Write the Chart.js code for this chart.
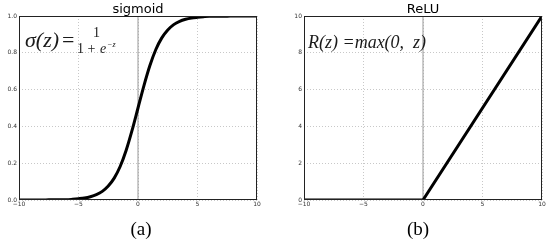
<!DOCTYPE html>
<html>
<head>
<meta charset="utf-8">
<script src="https://cdn.jsdelivr.net/npm/chart.js@4"></script>
<style>
  body { margin: 0; background: #fff; }
  #wrap { position: relative; width: 550px; height: 244px; }
  canvas { position: absolute; top: 0; }
</style>
</head>
<body>
<div id="wrap">
  <canvas id="sigmoidChart" width="275" height="244" style="left:0"></canvas>
  <canvas id="reluChart" width="275" height="244" style="left:275px"></canvas>
</div>
<script>
// values
const sigmoidZ = [-10, -9.5, -9, -8.5, -8, -7.5, -7, -6.5, -6, -5.5, -5, -4.5, -4, -3.5, -3, -2.5, -2, -1.5, -1, -0.5,
  0, 0.5, 1, 1.5, 2, 2.5, 3, 3.5, 4, 4.5, 5, 5.5, 6, 6.5, 7, 7.5, 8, 8.5, 9, 9.5, 10];
const sigmoidVals = [0.000, 0.000, 0.000, 0.000, 0.000, 0.001, 0.001, 0.002, 0.002, 0.004, 0.007, 0.011, 0.018, 0.029,
  0.047, 0.076, 0.119, 0.182, 0.269, 0.378, 0.500, 0.622, 0.731, 0.818, 0.881, 0.924, 0.953, 0.971, 0.982, 0.989,
  0.993, 0.996, 0.998, 0.998, 0.999, 0.999, 1.000, 1.000, 1.000, 1.000, 1.000];
const reluZ = [-10, 0, 10];
const reluVals = [0, 0, 10];
const xTicks = [-10, -5, 0, 5, 10];
const sigmoidYTicks = [0, 0.2, 0.4, 0.6, 0.8, 1.0];
const reluYTicks = [0, 2, 4, 6, 8, 10];

const tickFont = { family: "DejaVu Sans", size: 6 };
const minus = (v) => String(v).replace("-", "\u2212");

// frame round the plot, title on top, (a)/(b) under it, formula inside
function frameAndText(title, label, labelX, drawFormula) {
  return {
    id: "frameAndText",
    afterDraw(chart) {
      const { ctx, chartArea: { left, right, top, bottom } } = chart;
      ctx.save();
      ctx.strokeStyle = "#222";
      ctx.lineWidth = 1;
      ctx.strokeRect(left + 0.5, top + 0.5, right - left - 1, bottom - top - 1);

      ctx.fillStyle = "#000";
      ctx.textAlign = "center";
      ctx.textBaseline = "alphabetic";
      ctx.font = "13px 'DejaVu Sans'";
      ctx.fillText(title, (left + right) / 2, 13);
      ctx.font = "19px 'Liberation Serif'";
      ctx.fillText(label, labelX, 235);

      ctx.textAlign = "left";
      ctx.fillStyle = "#1a1a1a";
      drawFormula(ctx, left);
      ctx.restore();
    },
  };
}

function makeChart(id, xs, ys, yTicks, yWidth, padRight, smooth, plugin) {
  const points = xs.map((x, i) => ({ x, y: ys[i] }));
  const yMax = yTicks[yTicks.length - 1];
  return new Chart(document.getElementById(id), {
    type: "line",
    data: {
      datasets: [
        {
          data: points,
          borderColor: "#000",
          borderWidth: 3,
          pointRadius: 0,
          tension: smooth ? 0.4 : 0,
          cubicInterpolationMode: smooth ? "monotone" : "default",
          order: 1,
        },
        {
          data: [{ x: 0, y: 0 }, { x: 0, y: yMax }],
          borderColor: "#999",
          borderWidth: 1,
          pointRadius: 0,
          order: 2,
        },
      ],
    },
    options: {
      responsive: false,
      animation: false,
      layout: { padding: { top: 16, right: padRight, left: 0, bottom: 0 } },
      scales: {
        x: {
          type: "linear",
          min: -10,
          max: 10,
          afterBuildTicks: (scale) => { scale.ticks = xTicks.map((v) => ({ value: v })); },
          afterFit: (scale) => { scale.height = 44; },
          ticks: { font: tickFont, color: "#333", padding: 1, maxRotation: 0, callback: minus },
          grid: { color: "#c8c8c8", drawTicks: false },
          border: { display: false, dash: [1, 2] },
        },
        y: {
          min: 0,
          max: yMax,
          afterBuildTicks: (scale) => { scale.ticks = yTicks.map((v) => ({ value: v })); },
          afterFit: (scale) => { scale.width = yWidth; },
          ticks: {
            font: tickFont,
            color: "#333",
            padding: 2,
            callback: (v) => (yMax === 1 ? v.toFixed(1) : String(v)),
          },
          grid: { color: "#c8c8c8", drawTicks: false },
          border: { display: false, dash: [1, 2] },
        },
      },
      plugins: {
        legend: { display: false },
        tooltip: { enabled: false },
      },
    },
    plugins: [plugin],
  });
}

makeChart("sigmoidChart", sigmoidZ, sigmoidVals, sigmoidYTicks, 19, 18, true,
  frameAndText("sigmoid", "(a)", 141, (ctx, left) => {
    const x0 = left + 6;
    ctx.font = "italic 22px 'Liberation Serif'";
    ctx.fillText("\u03c3(z)", x0, 47);
    ctx.font = "22px 'Liberation Serif'";
    ctx.fillText("=", x0 + 37, 47);
    ctx.font = "14px 'Liberation Serif'";
    ctx.fillText("1", x0 + 68, 37);
    ctx.fillText("1 +", x0 + 52, 53);
    ctx.font = "italic 14px 'Liberation Serif'";
    ctx.fillText("e", x0 + 75, 53);
    ctx.font = "italic 8px 'Liberation Serif'";
    ctx.fillText("\u2212z", x0 + 82, 47);
  }));

makeChart("reluChart", reluZ, reluVals, reluYTicks, 29, 8, false,
  frameAndText("ReLU", "(b)", 143, (ctx, left) => {
    ctx.font = "italic 18px 'Liberation Serif'";
    ctx.fillText("R(z) =max(0,  z)", left + 4, 48);
  }));
</script>
</body>
</html>
